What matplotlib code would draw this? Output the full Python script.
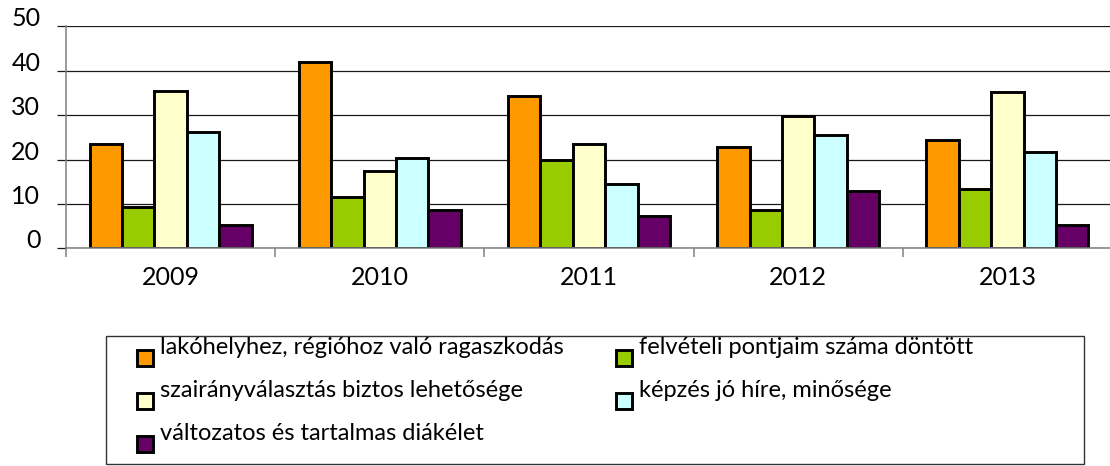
import matplotlib.pyplot as plt
from matplotlib.patches import Rectangle
from matplotlib.legend_handler import HandlerPatch

# === Data ===
years = ['2009', '2010', '2011', '2012', '2013']
series_names = [
    'lakóhelyhez, régióhoz való ragaszkodás',
    'felvételi pontjaim száma döntött',
    'szairányválasztás biztos lehetősége',
    'képzés jó híre, minősége',
    'változatos és tartalmas diákélet',
]
lakohely = [23.6, 42.0, 34.3, 22.9, 24.3]
felveteli = [9.2, 11.6, 19.8, 8.6, 13.3]
szakirany = [35.4, 17.3, 23.5, 29.9, 35.1]
kepzes = [26.2, 20.4, 14.5, 25.6, 21.6]
diakelet = [5.2, 8.6, 7.3, 12.8, 5.3]
series = [lakohely, felveteli, szakirany, kepzes, diakelet]
colors = ['#FF9900', '#99CC00', '#FFFFCC', '#CCFFFF', '#660066']

plt.rcParams['font.family'] = ['Lato', 'DejaVu Sans']

W, H = 1110, 466
fig = plt.figure(figsize=(W / 100, H / 100), dpi=100)
ax = fig.add_axes([66 / W, (H - 248.3) / H, 1046 / W, 222 / H])

# === Bars ===
bw = 0.155
x = range(len(years))
bars = []
for i, (vals, col) in enumerate(zip(series, colors)):
    b = ax.bar([k + (i - 2) * bw for k in x], vals, width=bw, color=col,
               edgecolor='black', linewidth=2.1, zorder=2)
    bars.append(b)

# === Axes styling ===
ax.set_xlim(-0.5, 4.5)
ax.set_ylim(0, 50)
ax.set_yticks(range(0, 51, 10))
ax.yaxis.grid(True, color='#1a1a1a', linewidth=0.9)
ax.set_axisbelow(True)
for s in ['top', 'right']:
    ax.spines[s].set_visible(False)
for s in ['left', 'bottom']:
    ax.spines[s].set_color('#808080')
    ax.spines[s].set_linewidth(1.1)
    ax.spines[s].set_zorder(3)

ax.tick_params(axis='y', length=6.5, width=0.9, color='#1a1a1a', pad=12, labelsize=18)
for lbl in ax.get_yticklabels():
    lbl.set_verticalalignment('baseline')

ax.set_xticks(list(x), years)
ax.set_xticks([k - 0.5 for k in range(len(years) + 1)], minor=True)
ax.tick_params(axis='x', which='major', length=0, pad=13, labelsize=18)
ax.tick_params(axis='x', which='minor', length=6.5, width=1.1, color='#808080')


# === Legend ===
class SquareBelow(HandlerPatch):
    def create_artists(self, legend, orig_handle, xdescent, ydescent,
                       width, height, fontsize, trans):
        s = 11.5
        p = Rectangle((-xdescent + (width - s) / 2, -ydescent + (height - s) / 2 - 9),
                      s, s)
        self.update_prop(p, orig_handle, legend)
        p.set_transform(trans)
        return [p]


order = [0, 2, 4, 1, 3]
handles = [bars[i].patches[0] for i in order]
names = [series_names[i] for i in order]
fig.legend(handles, names, loc='upper left', bbox_to_anchor=(137 / W, (H - 337) / H),
           ncol=2, frameon=False, fontsize=17, handlelength=0.68, handletextpad=0.3,
           columnspacing=2.2, labelspacing=0.93, borderpad=0, borderaxespad=0,
           handler_map={p: SquareBelow() for p in handles})
fig.patches.append(Rectangle((106 / W, 2 / H), (1084 - 106) / W, (464 - 335.7) / H,
                             transform=fig.transFigure, fill=False,
                             edgecolor='#333333', linewidth=1))

fig.savefig('out.png', dpi=100)
